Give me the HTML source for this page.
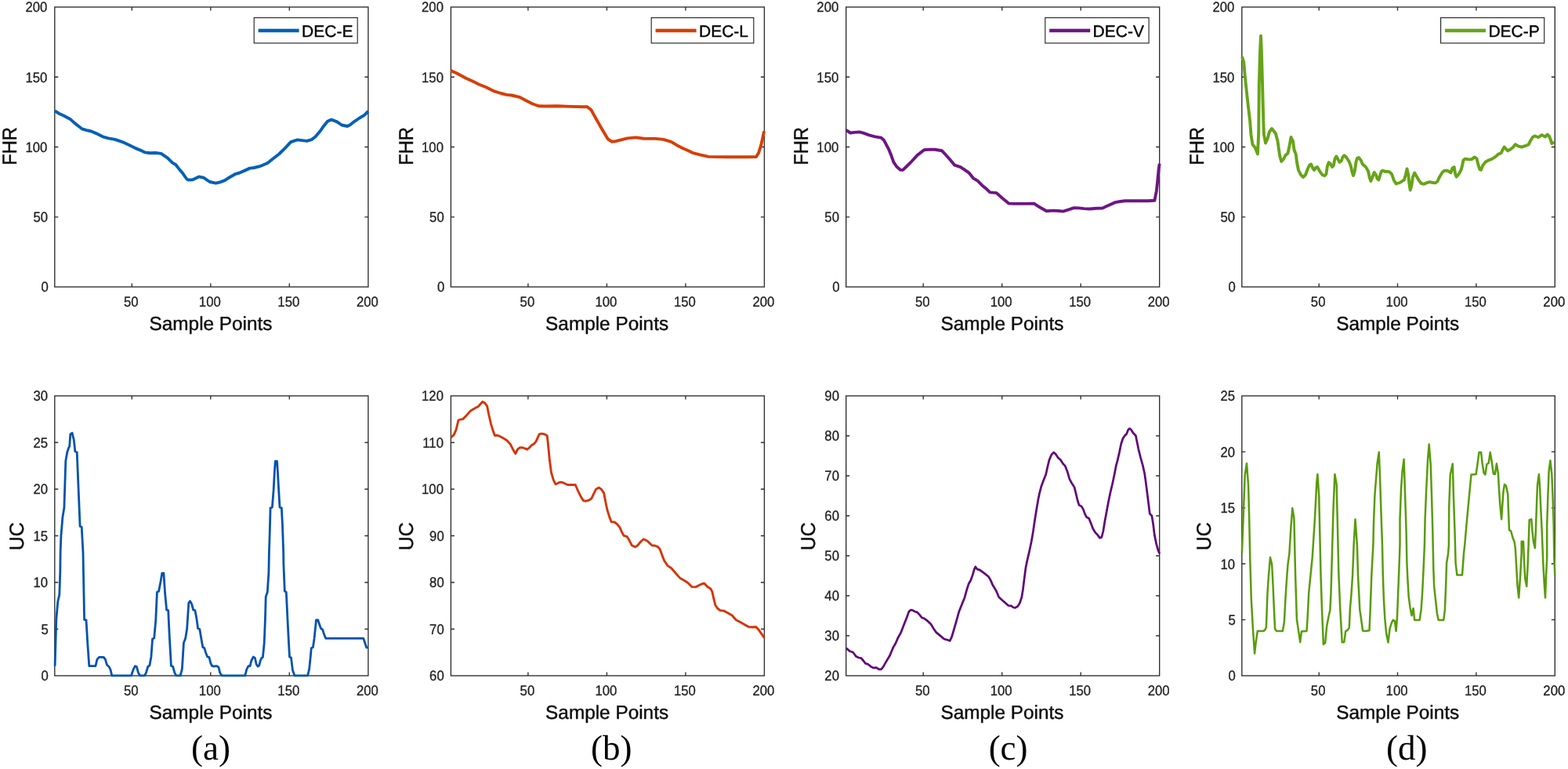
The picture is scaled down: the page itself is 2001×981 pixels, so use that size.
<!DOCTYPE html>
<html lang="en">
<head>
<meta charset="utf-8">
<title>FHR and UC signals for deceleration types</title>
<style>
html,body{margin:0;padding:0;background:#fff;}
body{width:2001px;height:981px;overflow:hidden;}
svg{display:block;}
</style>
</head>
<body>
<svg width="2001" height="981" viewBox="0 0 2001 981" style="display:block" text-rendering="geometricPrecision">
<g>
<rect x="69.8" y="9" width="400.1" height="357" fill="none" stroke="#2c2c2c" stroke-width="1.35"/>
<path d="M168.3,366v-4.5M168.3,9v4.5M268.8,366v-4.5M268.8,9v4.5M369.3,366v-4.5M369.3,9v4.5M69.8,276.8h4.5M469.9,276.8h-4.5M69.8,187.5h4.5M469.9,187.5h-4.5M69.8,98.2h4.5M469.9,98.2h-4.5" fill="none" stroke="#2c2c2c" stroke-width="1.35"/>
<clipPath id="ct0"><rect x="67.6" y="6" width="404.4" height="363"/></clipPath>
<path d="M69.9,141.4 L75.6,145 L81.7,147.8 L89.5,151.9 L96.1,157.7 L104.5,164.3 L110.5,166.1 L116.5,167.5 L122.6,170.1 L131,174.3 L138.2,176.3 L146.6,177.8 L156.2,181.1 L164.7,185.1 L171.9,188.6 L179.1,191.6 L185.1,194.4 L191.1,195.2 L198.3,195 L205.6,195.9 L214,201.6 L220,207.6 L224.2,210 L228.4,215.4 L233.2,221.1 L238,228 L240,229.6 L246,229.2 L253.8,225.4 L259.8,226.6 L267.7,232 L275.5,233.7 L280.9,232.3 L286.9,230.2 L292.9,226.2 L300.8,221.8 L305.6,220.5 L312.2,217.6 L318.8,214.6 L324.2,214 L332.6,211.8 L341.1,208.2 L348.3,202.5 L356.1,196.5 L363.9,188.9 L371.1,181.1 L379.5,178.4 L385.6,179.1 L391.6,179.9 L397.6,178.1 L402.4,174.5 L409,166.7 L413.2,160.7 L418,154.7 L422.9,152.6 L430.1,155.3 L436.1,159.5 L443.3,161 L446.9,159.2 L451.7,155.3 L458.9,150.5 L465,146.8 L469.8,142" fill="none" stroke="#0360b7" stroke-width="3.9" stroke-linejoin="round" stroke-linecap="butt" clip-path="url(#ct0)"/>
<text transform="translate(167.3,390.8) scale(0.925,1)" font-family='"Liberation Sans", Arial, Helvetica, sans-serif' font-size="18.1" fill="#1e1e1e" text-anchor="middle" stroke="#1e1e1e" stroke-width="0.3" stroke-linejoin="round">50</text>
<text transform="translate(267.82,390.8) scale(0.925,1)" font-family='"Liberation Sans", Arial, Helvetica, sans-serif' font-size="18.1" fill="#1e1e1e" text-anchor="middle" stroke="#1e1e1e" stroke-width="0.3" stroke-linejoin="round">100</text>
<text transform="translate(368.33,390.8) scale(0.925,1)" font-family='"Liberation Sans", Arial, Helvetica, sans-serif' font-size="18.1" fill="#1e1e1e" text-anchor="middle" stroke="#1e1e1e" stroke-width="0.3" stroke-linejoin="round">150</text>
<text transform="translate(468.85,390.8) scale(0.925,1)" font-family='"Liberation Sans", Arial, Helvetica, sans-serif' font-size="18.1" fill="#1e1e1e" text-anchor="middle" stroke="#1e1e1e" stroke-width="0.3" stroke-linejoin="round">200</text>
<text transform="translate(61.7,372.4) scale(0.925,1)" font-family='"Liberation Sans", Arial, Helvetica, sans-serif' font-size="18.1" fill="#1e1e1e" text-anchor="end" stroke="#1e1e1e" stroke-width="0.3" stroke-linejoin="round">0</text>
<text transform="translate(61.1,283.15) scale(0.925,1)" font-family='"Liberation Sans", Arial, Helvetica, sans-serif' font-size="18.1" fill="#1e1e1e" text-anchor="end" stroke="#1e1e1e" stroke-width="0.3" stroke-linejoin="round">50</text>
<text transform="translate(60.4,193.9) scale(0.925,1)" font-family='"Liberation Sans", Arial, Helvetica, sans-serif' font-size="18.1" fill="#1e1e1e" text-anchor="end" stroke="#1e1e1e" stroke-width="0.3" stroke-linejoin="round">100</text>
<text transform="translate(60.4,104.65) scale(0.925,1)" font-family='"Liberation Sans", Arial, Helvetica, sans-serif' font-size="18.1" fill="#1e1e1e" text-anchor="end" stroke="#1e1e1e" stroke-width="0.3" stroke-linejoin="round">150</text>
<text transform="translate(60.4,15.4) scale(0.925,1)" font-family='"Liberation Sans", Arial, Helvetica, sans-serif' font-size="18.1" fill="#1e1e1e" text-anchor="end" stroke="#1e1e1e" stroke-width="0.3" stroke-linejoin="round">200</text>
<text transform="translate(269.02,421.4)" font-family='"Liberation Sans", Arial, Helvetica, sans-serif' font-size="24.35" fill="#0c0c0c" text-anchor="middle" stroke="#0c0c0c" stroke-width="0.4" stroke-linejoin="round">Sample Points</text>
<text transform="translate(20.8,186.4) rotate(-90) scale(0.93,1)" font-family='"Liberation Sans", Arial, Helvetica, sans-serif' font-size="25.6" fill="#0c0c0c" text-anchor="middle" stroke="#0c0c0c" stroke-width="0.4" stroke-linejoin="round">FHR</text>
<rect x="324.2" y="22.6" width="132" height="32.4" fill="#fff" stroke="#262626" stroke-width="1.15"/>
<path d="M329.6,39h52" stroke="#0360b7" stroke-width="4.3" fill="none"/>
<text transform="translate(385.05,47.1)" font-family='"Liberation Sans", Arial, Helvetica, sans-serif' font-size="21.0" fill="#000" text-anchor="start" stroke="#000" stroke-width="0.35" stroke-linejoin="round">DEC-E</text>
</g>
<g>
<rect x="575.4" y="9" width="400" height="357" fill="none" stroke="#2c2c2c" stroke-width="1.35"/>
<path d="M673.9,366v-4.5M673.9,9v4.5M774.4,366v-4.5M774.4,9v4.5M874.9,366v-4.5M874.9,9v4.5M575.4,276.8h4.5M975.4,276.8h-4.5M575.4,187.5h4.5M975.4,187.5h-4.5M575.4,98.2h4.5M975.4,98.2h-4.5" fill="none" stroke="#2c2c2c" stroke-width="1.35"/>
<clipPath id="ct1"><rect x="573.2" y="6" width="404.4" height="363"/></clipPath>
<path d="M575.3,90.1 L582.5,93.3 L595.1,99.9 L605.1,104.6 L611.4,107.7 L620.2,111.2 L631.4,116.7 L639,119 L646.5,120.9 L652.7,121.5 L662.8,123.8 L670.3,127.8 L679.1,132.2 L687.2,135.3 L695.4,135.5 L711.7,135.3 L728,135.9 L743,136.2 L749.4,136.2 L754.4,140.3 L760.7,151.6 L768.2,164.7 L775.7,177.3 L780.7,180.7 L785.8,180.2 L792.7,178.3 L800.8,176.4 L811.5,175.4 L821.5,176.7 L836.5,176.9 L846.6,177.9 L856.6,180.8 L864.1,185.4 L871.6,189.2 L877.9,192 L883.6,194.8 L893,197.3 L904.2,199.9 L915.5,200.1 L928.1,200.2 L940.6,200.2 L953.1,200.2 L965.1,200.1 L968.2,194.8 L971.3,184.8 L973.5,174.8 L975.1,167.3" fill="none" stroke="#d63f05" stroke-width="3.9" stroke-linejoin="round" stroke-linecap="butt" clip-path="url(#ct1)"/>
<text transform="translate(672.89,390.8) scale(0.925,1)" font-family='"Liberation Sans", Arial, Helvetica, sans-serif' font-size="18.1" fill="#1e1e1e" text-anchor="middle" stroke="#1e1e1e" stroke-width="0.3" stroke-linejoin="round">50</text>
<text transform="translate(773.39,390.8) scale(0.925,1)" font-family='"Liberation Sans", Arial, Helvetica, sans-serif' font-size="18.1" fill="#1e1e1e" text-anchor="middle" stroke="#1e1e1e" stroke-width="0.3" stroke-linejoin="round">100</text>
<text transform="translate(873.9,390.8) scale(0.925,1)" font-family='"Liberation Sans", Arial, Helvetica, sans-serif' font-size="18.1" fill="#1e1e1e" text-anchor="middle" stroke="#1e1e1e" stroke-width="0.3" stroke-linejoin="round">150</text>
<text transform="translate(974.4,390.8) scale(0.925,1)" font-family='"Liberation Sans", Arial, Helvetica, sans-serif' font-size="18.1" fill="#1e1e1e" text-anchor="middle" stroke="#1e1e1e" stroke-width="0.3" stroke-linejoin="round">200</text>
<text transform="translate(567.3,372.4) scale(0.925,1)" font-family='"Liberation Sans", Arial, Helvetica, sans-serif' font-size="18.1" fill="#1e1e1e" text-anchor="end" stroke="#1e1e1e" stroke-width="0.3" stroke-linejoin="round">0</text>
<text transform="translate(566.7,283.15) scale(0.925,1)" font-family='"Liberation Sans", Arial, Helvetica, sans-serif' font-size="18.1" fill="#1e1e1e" text-anchor="end" stroke="#1e1e1e" stroke-width="0.3" stroke-linejoin="round">50</text>
<text transform="translate(566,193.9) scale(0.925,1)" font-family='"Liberation Sans", Arial, Helvetica, sans-serif' font-size="18.1" fill="#1e1e1e" text-anchor="end" stroke="#1e1e1e" stroke-width="0.3" stroke-linejoin="round">100</text>
<text transform="translate(566,104.65) scale(0.925,1)" font-family='"Liberation Sans", Arial, Helvetica, sans-serif' font-size="18.1" fill="#1e1e1e" text-anchor="end" stroke="#1e1e1e" stroke-width="0.3" stroke-linejoin="round">150</text>
<text transform="translate(566,15.4) scale(0.925,1)" font-family='"Liberation Sans", Arial, Helvetica, sans-serif' font-size="18.1" fill="#1e1e1e" text-anchor="end" stroke="#1e1e1e" stroke-width="0.3" stroke-linejoin="round">200</text>
<text transform="translate(774.6,421.4)" font-family='"Liberation Sans", Arial, Helvetica, sans-serif' font-size="24.35" fill="#0c0c0c" text-anchor="middle" stroke="#0c0c0c" stroke-width="0.4" stroke-linejoin="round">Sample Points</text>
<text transform="translate(526.5,186.4) rotate(-90) scale(0.93,1)" font-family='"Liberation Sans", Arial, Helvetica, sans-serif' font-size="25.6" fill="#0c0c0c" text-anchor="middle" stroke="#0c0c0c" stroke-width="0.4" stroke-linejoin="round">FHR</text>
<rect x="831.2" y="22.6" width="130.6" height="32.4" fill="#fff" stroke="#262626" stroke-width="1.15"/>
<path d="M836.6,39h52" stroke="#d63f05" stroke-width="4.3" fill="none"/>
<text transform="translate(892,47.1)" font-family='"Liberation Sans", Arial, Helvetica, sans-serif' font-size="21.0" fill="#000" text-anchor="start" stroke="#000" stroke-width="0.35" stroke-linejoin="round">DEC-L</text>
</g>
<g>
<rect x="1079.7" y="9" width="400" height="357" fill="none" stroke="#2c2c2c" stroke-width="1.35"/>
<path d="M1178.2,366v-4.5M1178.2,9v4.5M1278.7,366v-4.5M1278.7,9v4.5M1379.2,366v-4.5M1379.2,9v4.5M1079.7,276.8h4.5M1479.7,276.8h-4.5M1079.7,187.5h4.5M1479.7,187.5h-4.5M1079.7,98.2h4.5M1479.7,98.2h-4.5" fill="none" stroke="#2c2c2c" stroke-width="1.35"/>
<clipPath id="ct2"><rect x="1077.5" y="6" width="404.4" height="363"/></clipPath>
<path d="M1079.6,165.8 L1085.3,169.5 L1090.3,168.9 L1096.6,168.4 L1101.6,169.7 L1109.1,172.4 L1116.6,174.3 L1124.2,175.6 L1127.9,178.7 L1133.6,189.3 L1137.3,198.1 L1140.4,206.9 L1144.2,212.5 L1149.2,216.9 L1152.4,216.7 L1156.7,212.5 L1163,206.3 L1170.5,198.1 L1179.3,191.2 L1186.8,190.6 L1193.1,190.8 L1201.9,192.2 L1206.9,197.5 L1212.5,203.8 L1218.2,210.7 L1225.7,213.2 L1230.7,216.3 L1236.4,220.3 L1242,227.3 L1247.6,230.7 L1253.3,236.4 L1258.9,241.1 L1263.4,245.4 L1271.6,246.1 L1279.1,252.7 L1287.3,259.6 L1294.2,259.9 L1306.7,259.9 L1319.9,259.8 L1326.7,264.3 L1335.5,269.2 L1344.3,268.6 L1350.6,269 L1356.8,269.6 L1363.1,267.7 L1370.6,265.2 L1376.9,265.4 L1383.2,266.1 L1390.7,266.5 L1399.5,265.8 L1407,265.6 L1414.5,262.1 L1423.3,258.1 L1429.6,257 L1435.8,256.2 L1450.9,256.2 L1464.7,256.2 L1473.4,255.8 L1475.9,243.3 L1477.5,228.2 L1478.7,215.7 L1479.7,208.8" fill="none" stroke="#6e1584" stroke-width="3.9" stroke-linejoin="round" stroke-linecap="butt" clip-path="url(#ct2)"/>
<text transform="translate(1177.19,390.8) scale(0.925,1)" font-family='"Liberation Sans", Arial, Helvetica, sans-serif' font-size="18.1" fill="#1e1e1e" text-anchor="middle" stroke="#1e1e1e" stroke-width="0.3" stroke-linejoin="round">50</text>
<text transform="translate(1277.69,390.8) scale(0.925,1)" font-family='"Liberation Sans", Arial, Helvetica, sans-serif' font-size="18.1" fill="#1e1e1e" text-anchor="middle" stroke="#1e1e1e" stroke-width="0.3" stroke-linejoin="round">100</text>
<text transform="translate(1378.2,390.8) scale(0.925,1)" font-family='"Liberation Sans", Arial, Helvetica, sans-serif' font-size="18.1" fill="#1e1e1e" text-anchor="middle" stroke="#1e1e1e" stroke-width="0.3" stroke-linejoin="round">150</text>
<text transform="translate(1478.7,390.8) scale(0.925,1)" font-family='"Liberation Sans", Arial, Helvetica, sans-serif' font-size="18.1" fill="#1e1e1e" text-anchor="middle" stroke="#1e1e1e" stroke-width="0.3" stroke-linejoin="round">200</text>
<text transform="translate(1071.6,372.4) scale(0.925,1)" font-family='"Liberation Sans", Arial, Helvetica, sans-serif' font-size="18.1" fill="#1e1e1e" text-anchor="end" stroke="#1e1e1e" stroke-width="0.3" stroke-linejoin="round">0</text>
<text transform="translate(1071,283.15) scale(0.925,1)" font-family='"Liberation Sans", Arial, Helvetica, sans-serif' font-size="18.1" fill="#1e1e1e" text-anchor="end" stroke="#1e1e1e" stroke-width="0.3" stroke-linejoin="round">50</text>
<text transform="translate(1070.3,193.9) scale(0.925,1)" font-family='"Liberation Sans", Arial, Helvetica, sans-serif' font-size="18.1" fill="#1e1e1e" text-anchor="end" stroke="#1e1e1e" stroke-width="0.3" stroke-linejoin="round">100</text>
<text transform="translate(1070.3,104.65) scale(0.925,1)" font-family='"Liberation Sans", Arial, Helvetica, sans-serif' font-size="18.1" fill="#1e1e1e" text-anchor="end" stroke="#1e1e1e" stroke-width="0.3" stroke-linejoin="round">150</text>
<text transform="translate(1070.3,15.4) scale(0.925,1)" font-family='"Liberation Sans", Arial, Helvetica, sans-serif' font-size="18.1" fill="#1e1e1e" text-anchor="end" stroke="#1e1e1e" stroke-width="0.3" stroke-linejoin="round">200</text>
<text transform="translate(1278.9,421.4)" font-family='"Liberation Sans", Arial, Helvetica, sans-serif' font-size="24.35" fill="#0c0c0c" text-anchor="middle" stroke="#0c0c0c" stroke-width="0.4" stroke-linejoin="round">Sample Points</text>
<text transform="translate(1030.8,186.4) rotate(-90) scale(0.93,1)" font-family='"Liberation Sans", Arial, Helvetica, sans-serif' font-size="25.6" fill="#0c0c0c" text-anchor="middle" stroke="#0c0c0c" stroke-width="0.4" stroke-linejoin="round">FHR</text>
<rect x="1333.8" y="22.6" width="132.3" height="32.4" fill="#fff" stroke="#262626" stroke-width="1.15"/>
<path d="M1339.2,39h52" stroke="#6e1584" stroke-width="4.3" fill="none"/>
<text transform="translate(1394.6,47.1)" font-family='"Liberation Sans", Arial, Helvetica, sans-serif' font-size="21.0" fill="#000" text-anchor="start" stroke="#000" stroke-width="0.35" stroke-linejoin="round">DEC-V</text>
</g>
<g>
<rect x="1584.8" y="9" width="399.5" height="357" fill="none" stroke="#2c2c2c" stroke-width="1.35"/>
<path d="M1683.2,366v-4.5M1683.2,9v4.5M1783.5,366v-4.5M1783.5,9v4.5M1883.9,366v-4.5M1883.9,9v4.5M1584.8,276.8h4.5M1984.3,276.8h-4.5M1584.8,187.5h4.5M1984.3,187.5h-4.5M1584.8,98.2h4.5M1984.3,98.2h-4.5" fill="none" stroke="#2c2c2c" stroke-width="1.35"/>
<clipPath id="ct3"><rect x="1582.6" y="6" width="403.9" height="363"/></clipPath>
<path d="M1585,72.3 L1587.2,79 L1588.7,96.2 L1591.5,123.1 L1595.2,155 L1596.5,172 L1598.5,184.5 L1601.5,188 L1605,196.5 L1606.2,170 L1606.8,108.4 L1608,65.6 L1609,45.8 L1609.9,65.6 L1611.1,108.4 L1612.3,155 L1613,172 L1615,182.5 L1617.5,177 L1620,168 L1623,164 L1628,170.5 L1630.5,180 L1633,198 L1635.2,206 L1638,203 L1640.5,198 L1643.5,195.5 L1645.5,186 L1647.5,175 L1650,180 L1651.5,191 L1653.8,197 L1655,207 L1657,217 L1660,223 L1663.2,226 L1666,223 L1669,215 L1671.2,210.5 L1673.2,209.5 L1675,214 L1677.2,217 L1679,214 L1681.1,213 L1683.9,218 L1687.4,223 L1690.4,224.2 L1692.4,222 L1693.9,212 L1695.7,207.2 L1697.9,209 L1699.9,213 L1701.9,211 L1703.4,203 L1705.4,199.5 L1707.4,203 L1709.4,207 L1711.9,205 L1713.4,200.5 L1715.4,198.2 L1718.4,201 L1721.9,206.5 L1723.9,212 L1725.4,219 L1727.1,224 L1728.9,218 L1730.4,207 L1731.9,202 L1733.9,201 L1736.4,204 L1738.9,209.5 L1742.9,213 L1745.9,218 L1747.9,227 L1749.4,231 L1751.4,226 L1753.7,220 L1755.9,223 L1757.7,228 L1759.4,229.5 L1761.1,224 L1762.9,218.5 L1764.9,217.5 L1767.9,219 L1770,218.6 L1773.3,219.4 L1776.1,222.2 L1778.8,229.9 L1781.6,234.5 L1786.5,233 L1792,229.3 L1794,222.2 L1795.5,215.3 L1797.3,223.3 L1798.4,234.3 L1799.7,242.5 L1801.4,236.5 L1803,225.5 L1805.2,220.5 L1808,225.5 L1811.3,231 L1814,234.1 L1817.3,234.8 L1821.2,233 L1824.5,232.1 L1828.4,233 L1831.7,233.4 L1834.4,231.5 L1837.2,225.5 L1840.5,220 L1843.2,217.8 L1847.1,217.8 L1851.5,220.2 L1853.5,214.5 L1855.7,213.1 L1857,221.1 L1858.6,225.5 L1861.4,222.2 L1864.1,217.8 L1865.8,212.3 L1867.4,204.5 L1869.6,202.6 L1873.5,203.2 L1877.9,203.4 L1881.8,200.4 L1884.5,202.3 L1886.7,211.2 L1888.4,216.1 L1890,216.7 L1892.2,211.2 L1895.5,206.8 L1899.9,204.3 L1903.8,202.9 L1908.2,200.1 L1912,196.8 L1915.9,194.9 L1918.1,190.2 L1919.7,187.5 L1922,190.2 L1924.2,192.4 L1927.5,190.5 L1930.8,188 L1933.8,184.2 L1937.4,186.4 L1941.8,187.7 L1946.2,186.2 L1950.6,184.5 L1953.3,179.2 L1956.1,174.8 L1958.8,173.5 L1963.2,175.2 L1967.6,172.1 L1972.1,174.6 L1974.6,171.5 L1977,173.7 L1978.7,178.1 L1980.3,183.1 L1983.6,181.4" fill="none" stroke="#66a418" stroke-width="3.9" stroke-linejoin="round" stroke-linecap="butt" clip-path="url(#ct3)"/>
<text transform="translate(1682.17,390.8) scale(0.925,1)" font-family='"Liberation Sans", Arial, Helvetica, sans-serif' font-size="18.1" fill="#1e1e1e" text-anchor="middle" stroke="#1e1e1e" stroke-width="0.3" stroke-linejoin="round">50</text>
<text transform="translate(1782.55,390.8) scale(0.925,1)" font-family='"Liberation Sans", Arial, Helvetica, sans-serif' font-size="18.1" fill="#1e1e1e" text-anchor="middle" stroke="#1e1e1e" stroke-width="0.3" stroke-linejoin="round">100</text>
<text transform="translate(1882.92,390.8) scale(0.925,1)" font-family='"Liberation Sans", Arial, Helvetica, sans-serif' font-size="18.1" fill="#1e1e1e" text-anchor="middle" stroke="#1e1e1e" stroke-width="0.3" stroke-linejoin="round">150</text>
<text transform="translate(1983.3,390.8) scale(0.925,1)" font-family='"Liberation Sans", Arial, Helvetica, sans-serif' font-size="18.1" fill="#1e1e1e" text-anchor="middle" stroke="#1e1e1e" stroke-width="0.3" stroke-linejoin="round">200</text>
<text transform="translate(1576.7,372.4) scale(0.925,1)" font-family='"Liberation Sans", Arial, Helvetica, sans-serif' font-size="18.1" fill="#1e1e1e" text-anchor="end" stroke="#1e1e1e" stroke-width="0.3" stroke-linejoin="round">0</text>
<text transform="translate(1576.1,283.15) scale(0.925,1)" font-family='"Liberation Sans", Arial, Helvetica, sans-serif' font-size="18.1" fill="#1e1e1e" text-anchor="end" stroke="#1e1e1e" stroke-width="0.3" stroke-linejoin="round">50</text>
<text transform="translate(1575.4,193.9) scale(0.925,1)" font-family='"Liberation Sans", Arial, Helvetica, sans-serif' font-size="18.1" fill="#1e1e1e" text-anchor="end" stroke="#1e1e1e" stroke-width="0.3" stroke-linejoin="round">100</text>
<text transform="translate(1575.4,104.65) scale(0.925,1)" font-family='"Liberation Sans", Arial, Helvetica, sans-serif' font-size="18.1" fill="#1e1e1e" text-anchor="end" stroke="#1e1e1e" stroke-width="0.3" stroke-linejoin="round">150</text>
<text transform="translate(1575.4,15.4) scale(0.925,1)" font-family='"Liberation Sans", Arial, Helvetica, sans-serif' font-size="18.1" fill="#1e1e1e" text-anchor="end" stroke="#1e1e1e" stroke-width="0.3" stroke-linejoin="round">200</text>
<text transform="translate(1783.75,421.4)" font-family='"Liberation Sans", Arial, Helvetica, sans-serif' font-size="24.35" fill="#0c0c0c" text-anchor="middle" stroke="#0c0c0c" stroke-width="0.4" stroke-linejoin="round">Sample Points</text>
<text transform="translate(1536.2,186.4) rotate(-90) scale(0.93,1)" font-family='"Liberation Sans", Arial, Helvetica, sans-serif' font-size="25.6" fill="#0c0c0c" text-anchor="middle" stroke="#0c0c0c" stroke-width="0.4" stroke-linejoin="round">FHR</text>
<rect x="1838.6" y="22.6" width="132.1" height="32.4" fill="#fff" stroke="#262626" stroke-width="1.15"/>
<path d="M1844,39h52" stroke="#66a418" stroke-width="4.3" fill="none"/>
<text transform="translate(1899.4,47.1)" font-family='"Liberation Sans", Arial, Helvetica, sans-serif' font-size="21.0" fill="#000" text-anchor="start" stroke="#000" stroke-width="0.35" stroke-linejoin="round">DEC-P</text>
</g>
<g>
<rect x="69.8" y="505" width="400.1" height="357" fill="none" stroke="#2c2c2c" stroke-width="1.35"/>
<path d="M168.3,862v-4.5M168.3,505v4.5M268.8,862v-4.5M268.8,505v4.5M369.3,862v-4.5M369.3,505v4.5M69.8,802.5h4.5M469.9,802.5h-4.5M69.8,743h4.5M469.9,743h-4.5M69.8,683.5h4.5M469.9,683.5h-4.5M69.8,624h4.5M469.9,624h-4.5M69.8,564.5h4.5M469.9,564.5h-4.5" fill="none" stroke="#2c2c2c" stroke-width="1.35"/>
<clipPath id="cb0"><rect x="67.6" y="502" width="404.4" height="363"/></clipPath>
<path d="M70.1,849.7 L71.8,790.8 L73.8,767.3 L75.8,758.9 L76.8,730.3 L77.1,705 L77.9,683.6 L79.9,659.7 L81.9,647.8 L83.8,588.2 L85.8,576.8 L87.7,571.1 L88.7,569.5 L89.8,554 L92.1,552.3 L94.3,561.3 L95.9,576 L98.2,576.8 L102.1,671.4 L104.2,672.2 L106,705 L107.6,790.5 L110,790.8 L111.8,821.1 L113.8,849.7 L121.9,849.7 L123.9,841.3 L126.4,838.3 L132.3,838.3 L134.5,841.3 L136.5,848.3 L139.1,850.5 L141.1,854.7 L142.8,861.8 L167.6,861.8 L170.2,853.9 L172.4,849.7 L174.4,850.5 L176.4,858.1 L178.6,861.8 L184.5,861.8 L186.5,858.1 L188.7,850.5 L190.9,848.9 L192.9,837.9 L194.6,814.9 L196.7,814 L198.8,790.8 L200.4,755.5 L202.6,754.2 L205,742 L206.8,731.1 L208.9,731.1 L210.5,755.5 L212.6,778.2 L214.7,778.7 L216.4,814.4 L218.4,849.4 L220.6,850.2 L222.8,858.1 L224.8,861.8 L230.2,861.8 L232.4,853.1 L234.4,820.3 L236.6,814.4 L238.6,802.6 L240.8,769 L242.5,766.8 L244.7,770.6 L246.7,778.2 L248.9,778.7 L250.9,789.1 L252.6,801.8 L254.8,802.6 L256.8,814.4 L258.8,825.8 L260.7,826.5 L262.7,832.9 L264.7,837.9 L266.9,838.4 L268.9,846.3 L270.8,849.7 L272.8,850 L277,849.7 L279,851.4 L280.7,858.1 L282.9,861.8 L312.7,861.8 L314.8,853.9 L317,849.7 L319.1,849.7 L320.7,843 L323.3,837.9 L325.4,839.3 L327.1,847.2 L329.1,850.2 L330.8,848.9 L332.2,843 L333.7,839.6 L335.4,838.3 L337.2,820.3 L338.4,790.8 L339.2,761.4 L341.3,755.2 L342.9,730.3 L343.4,705 L344.2,681 L345.1,647.9 L347.4,647.2 L349.1,625.4 L350.4,601.5 L351.3,588.3 L353.5,588.3 L354.4,601.5 L355.7,625.4 L357,647.2 L359.3,647.9 L360.4,667.8 L361.7,705 L361.9,720.2 L363.3,754.2 L365.3,755.5 L367,790.8 L368.2,814.4 L369.5,837.9 L371.5,838.9 L373.4,854.7 L375.9,861.8 L392.7,861.8 L394.7,853.1 L396.1,839.6 L397.3,826.7 L399.4,825.8 L401.1,814.4 L402.3,802.6 L403.5,790.8 L405.7,790.8 L407.7,796.7 L409.5,801.8 L411.6,802.9 L413.6,809.3 L415.8,814.4 L440,814.4 L463.8,814.4 L467.7,826 L469.8,826.2" fill="none" stroke="#0052ae" stroke-width="2.8" stroke-linejoin="round" stroke-linecap="butt" clip-path="url(#cb0)"/>
<text transform="translate(167.3,886.8) scale(0.925,1)" font-family='"Liberation Sans", Arial, Helvetica, sans-serif' font-size="18.1" fill="#1e1e1e" text-anchor="middle" stroke="#1e1e1e" stroke-width="0.3" stroke-linejoin="round">50</text>
<text transform="translate(267.82,886.8) scale(0.925,1)" font-family='"Liberation Sans", Arial, Helvetica, sans-serif' font-size="18.1" fill="#1e1e1e" text-anchor="middle" stroke="#1e1e1e" stroke-width="0.3" stroke-linejoin="round">100</text>
<text transform="translate(368.33,886.8) scale(0.925,1)" font-family='"Liberation Sans", Arial, Helvetica, sans-serif' font-size="18.1" fill="#1e1e1e" text-anchor="middle" stroke="#1e1e1e" stroke-width="0.3" stroke-linejoin="round">150</text>
<text transform="translate(468.85,886.8) scale(0.925,1)" font-family='"Liberation Sans", Arial, Helvetica, sans-serif' font-size="18.1" fill="#1e1e1e" text-anchor="middle" stroke="#1e1e1e" stroke-width="0.3" stroke-linejoin="round">200</text>
<text transform="translate(61.7,868.4) scale(0.925,1)" font-family='"Liberation Sans", Arial, Helvetica, sans-serif' font-size="18.1" fill="#1e1e1e" text-anchor="end" stroke="#1e1e1e" stroke-width="0.3" stroke-linejoin="round">0</text>
<text transform="translate(61.7,808.9) scale(0.925,1)" font-family='"Liberation Sans", Arial, Helvetica, sans-serif' font-size="18.1" fill="#1e1e1e" text-anchor="end" stroke="#1e1e1e" stroke-width="0.3" stroke-linejoin="round">5</text>
<text transform="translate(61.1,749.4) scale(0.925,1)" font-family='"Liberation Sans", Arial, Helvetica, sans-serif' font-size="18.1" fill="#1e1e1e" text-anchor="end" stroke="#1e1e1e" stroke-width="0.3" stroke-linejoin="round">10</text>
<text transform="translate(61.1,689.9) scale(0.925,1)" font-family='"Liberation Sans", Arial, Helvetica, sans-serif' font-size="18.1" fill="#1e1e1e" text-anchor="end" stroke="#1e1e1e" stroke-width="0.3" stroke-linejoin="round">15</text>
<text transform="translate(61.1,630.4) scale(0.925,1)" font-family='"Liberation Sans", Arial, Helvetica, sans-serif' font-size="18.1" fill="#1e1e1e" text-anchor="end" stroke="#1e1e1e" stroke-width="0.3" stroke-linejoin="round">20</text>
<text transform="translate(61.1,570.9) scale(0.925,1)" font-family='"Liberation Sans", Arial, Helvetica, sans-serif' font-size="18.1" fill="#1e1e1e" text-anchor="end" stroke="#1e1e1e" stroke-width="0.3" stroke-linejoin="round">25</text>
<text transform="translate(61.1,511.4) scale(0.925,1)" font-family='"Liberation Sans", Arial, Helvetica, sans-serif' font-size="18.1" fill="#1e1e1e" text-anchor="end" stroke="#1e1e1e" stroke-width="0.3" stroke-linejoin="round">30</text>
<text transform="translate(269.02,917.4)" font-family='"Liberation Sans", Arial, Helvetica, sans-serif' font-size="24.35" fill="#0c0c0c" text-anchor="middle" stroke="#0c0c0c" stroke-width="0.4" stroke-linejoin="round">Sample Points</text>
<text transform="translate(30.3,684.2) rotate(-90) scale(0.975,1)" font-family='"Liberation Sans", Arial, Helvetica, sans-serif' font-size="25.6" fill="#0c0c0c" text-anchor="middle" stroke="#0c0c0c" stroke-width="0.4" stroke-linejoin="round">UC</text>
<text transform="translate(269,968.7)" font-family='"Liberation Serif", "Times New Roman", serif' font-size="45" fill="#000" text-anchor="middle">(a)</text>
</g>
<g>
<rect x="575.4" y="505" width="400" height="357" fill="none" stroke="#2c2c2c" stroke-width="1.35"/>
<path d="M673.9,862v-4.5M673.9,505v4.5M774.4,862v-4.5M774.4,505v4.5M874.9,862v-4.5M874.9,505v4.5M575.4,802.5h4.5M975.4,802.5h-4.5M575.4,743h4.5M975.4,743h-4.5M575.4,683.5h4.5M975.4,683.5h-4.5M575.4,624h4.5M975.4,624h-4.5M575.4,564.5h4.5M975.4,564.5h-4.5" fill="none" stroke="#2c2c2c" stroke-width="1.35"/>
<clipPath id="cb1"><rect x="573.2" y="502" width="404.4" height="363"/></clipPath>
<path d="M575.4,558.1 L579.3,554.6 L582.1,548.2 L585,536 L587.8,535 L590.7,534.6 L595,530.3 L600.7,523.9 L605.7,521 L610.7,518.2 L615.7,512.5 L618.5,513.9 L621.7,518.2 L623.5,527.5 L626.4,540.3 L629.2,549.6 L631.4,555.6 L634.2,555.3 L637.8,556.4 L642.8,559.3 L647.1,562 L651.3,566.7 L654.9,573.8 L657.8,578.8 L660.6,573.1 L663.5,571 L667,571 L669.9,572.1 L672.8,573.4 L675.6,571 L678.5,567.9 L682,565.7 L684.2,562.9 L686.3,558.1 L688.2,553.9 L691.3,553.2 L694.9,553.9 L698.2,555.7 L699.2,564.6 L701.3,586 L703.4,602.4 L706.3,612.4 L709.1,617.7 L711.3,616.7 L714.1,615.2 L717,615.2 L718.6,615.8 L724.3,618.5 L729.3,618.5 L734.3,618.5 L737.8,626.7 L741.4,633.9 L744.5,638.6 L747.8,639.2 L751.4,638.2 L755,635.7 L757.8,629.6 L760.7,623.9 L764.2,622 L767.1,623.9 L770.7,628.9 L772.8,640.3 L774.9,650.3 L777.8,659.6 L780.2,665.7 L784.2,666 L787.8,668.8 L791.1,673.1 L793.5,678.8 L796.1,683.4 L799.9,684.3 L802.8,688.8 L806.3,695.7 L810.6,697.8 L813.5,696 L817.7,691 L821.3,687.7 L826.3,690.2 L829.2,693.1 L832,695.7 L835.6,696 L839.2,697.4 L842,700.2 L844.9,708.1 L847.7,715.2 L852,721.6 L856.3,724.5 L857.1,725.3 L862.1,731 L867.8,737.4 L872.8,740.3 L877.8,743.4 L882.8,748.6 L887.8,748.9 L892.8,746.3 L896.4,744.6 L898.8,744.2 L902.8,748.6 L906.8,751 L908.8,754.6 L910.7,763.1 L912.8,771.7 L915.6,776 L919.2,778.8 L923.5,779.1 L928.5,781.7 L934.2,785 L939.2,790.7 L944.9,793.8 L950.6,797.1 L955.6,799.8 L959.9,800 L964.9,799.8 L968.5,803.8 L972,808.8 L975.3,813.8" fill="none" stroke="#d43505" stroke-width="2.9" stroke-linejoin="round" stroke-linecap="butt" clip-path="url(#cb1)"/>
<text transform="translate(672.89,886.8) scale(0.925,1)" font-family='"Liberation Sans", Arial, Helvetica, sans-serif' font-size="18.1" fill="#1e1e1e" text-anchor="middle" stroke="#1e1e1e" stroke-width="0.3" stroke-linejoin="round">50</text>
<text transform="translate(773.39,886.8) scale(0.925,1)" font-family='"Liberation Sans", Arial, Helvetica, sans-serif' font-size="18.1" fill="#1e1e1e" text-anchor="middle" stroke="#1e1e1e" stroke-width="0.3" stroke-linejoin="round">100</text>
<text transform="translate(873.9,886.8) scale(0.925,1)" font-family='"Liberation Sans", Arial, Helvetica, sans-serif' font-size="18.1" fill="#1e1e1e" text-anchor="middle" stroke="#1e1e1e" stroke-width="0.3" stroke-linejoin="round">150</text>
<text transform="translate(974.4,886.8) scale(0.925,1)" font-family='"Liberation Sans", Arial, Helvetica, sans-serif' font-size="18.1" fill="#1e1e1e" text-anchor="middle" stroke="#1e1e1e" stroke-width="0.3" stroke-linejoin="round">200</text>
<text transform="translate(566.7,868.4) scale(0.925,1)" font-family='"Liberation Sans", Arial, Helvetica, sans-serif' font-size="18.1" fill="#1e1e1e" text-anchor="end" stroke="#1e1e1e" stroke-width="0.3" stroke-linejoin="round">60</text>
<text transform="translate(566.7,808.9) scale(0.925,1)" font-family='"Liberation Sans", Arial, Helvetica, sans-serif' font-size="18.1" fill="#1e1e1e" text-anchor="end" stroke="#1e1e1e" stroke-width="0.3" stroke-linejoin="round">70</text>
<text transform="translate(566.7,749.4) scale(0.925,1)" font-family='"Liberation Sans", Arial, Helvetica, sans-serif' font-size="18.1" fill="#1e1e1e" text-anchor="end" stroke="#1e1e1e" stroke-width="0.3" stroke-linejoin="round">80</text>
<text transform="translate(566.7,689.9) scale(0.925,1)" font-family='"Liberation Sans", Arial, Helvetica, sans-serif' font-size="18.1" fill="#1e1e1e" text-anchor="end" stroke="#1e1e1e" stroke-width="0.3" stroke-linejoin="round">90</text>
<text transform="translate(566,630.4) scale(0.925,1)" font-family='"Liberation Sans", Arial, Helvetica, sans-serif' font-size="18.1" fill="#1e1e1e" text-anchor="end" stroke="#1e1e1e" stroke-width="0.3" stroke-linejoin="round">100</text>
<text transform="translate(566,570.9) scale(0.925,1)" font-family='"Liberation Sans", Arial, Helvetica, sans-serif' font-size="18.1" fill="#1e1e1e" text-anchor="end" stroke="#1e1e1e" stroke-width="0.3" stroke-linejoin="round">110</text>
<text transform="translate(566,511.4) scale(0.925,1)" font-family='"Liberation Sans", Arial, Helvetica, sans-serif' font-size="18.1" fill="#1e1e1e" text-anchor="end" stroke="#1e1e1e" stroke-width="0.3" stroke-linejoin="round">120</text>
<text transform="translate(774.6,917.4)" font-family='"Liberation Sans", Arial, Helvetica, sans-serif' font-size="24.35" fill="#0c0c0c" text-anchor="middle" stroke="#0c0c0c" stroke-width="0.4" stroke-linejoin="round">Sample Points</text>
<text transform="translate(526.7,684.2) rotate(-90) scale(0.975,1)" font-family='"Liberation Sans", Arial, Helvetica, sans-serif' font-size="25.6" fill="#0c0c0c" text-anchor="middle" stroke="#0c0c0c" stroke-width="0.4" stroke-linejoin="round">UC</text>
<text transform="translate(780.3,968.7)" font-family='"Liberation Serif", "Times New Roman", serif' font-size="45" fill="#000" text-anchor="middle">(b)</text>
</g>
<g>
<rect x="1079.7" y="505" width="400" height="357" fill="none" stroke="#2c2c2c" stroke-width="1.35"/>
<path d="M1178.2,862v-4.5M1178.2,505v4.5M1278.7,862v-4.5M1278.7,505v4.5M1379.2,862v-4.5M1379.2,505v4.5M1079.7,811h4.5M1479.7,811h-4.5M1079.7,760h4.5M1479.7,760h-4.5M1079.7,709h4.5M1479.7,709h-4.5M1079.7,658h4.5M1479.7,658h-4.5M1079.7,607h4.5M1479.7,607h-4.5M1079.7,556h4.5M1479.7,556h-4.5" fill="none" stroke="#2c2c2c" stroke-width="1.35"/>
<clipPath id="cb2"><rect x="1077.5" y="502" width="404.4" height="363"/></clipPath>
<path d="M1079.9,826.9 L1084.5,830.8 L1088.5,832 L1092.3,837.2 L1095.8,839 L1098.9,839.5 L1101.9,843 L1104.5,846.4 L1107.6,847.3 L1111.4,850.4 L1114.5,852 L1118.3,851.6 L1121.8,853.9 L1124.4,853.9 L1127,850.8 L1130.5,844.7 L1135.7,836 L1140,825.6 L1142.9,820.8 L1146,813.5 L1149.5,807.4 L1153.8,796.2 L1157.3,787.5 L1159.9,780.1 L1162.5,778 L1165.1,778.8 L1167.7,780.2 L1170.7,781.1 L1173.8,784.6 L1176.4,788 L1179,788.7 L1183.3,791.8 L1188,796.2 L1191.1,801.4 L1194.6,806.6 L1199.8,810.9 L1205,815.2 L1208.4,816.1 L1212.2,817.5 L1214.5,812.6 L1217.1,804 L1220.6,791.8 L1224,779.7 L1227.5,771 L1231,762.4 L1233.6,752.9 L1236.2,744.7 L1238.8,740.2 L1241.4,732.9 L1243.4,726 L1244.8,723 L1246.9,726.1 L1250.4,727.1 L1255.6,730.9 L1261.7,735.8 L1264.3,740.4 L1266.9,746.5 L1271.2,753.4 L1274.7,761.8 L1279.9,766.4 L1286.8,772.5 L1290.3,772.8 L1292.9,774.8 L1295.5,775.4 L1298.9,773.4 L1301.5,769 L1303.8,762.1 L1305.5,751.7 L1307.2,737.8 L1309,724 L1311,714.4 L1313.6,703.2 L1316.2,691 L1318.3,678.9 L1320.6,663.3 L1322.8,649.5 L1324.9,637.3 L1326.7,628.6 L1329,619.9 L1331.6,613 L1334.7,605.2 L1336.8,595.7 L1338.9,587 L1341.6,580.4 L1344.6,577.1 L1347.2,579.2 L1350.3,583.9 L1353.3,586.6 L1356.7,591.8 L1359.3,594.4 L1361.9,600.9 L1364.9,611.2 L1367.6,616.1 L1371.1,621.6 L1373.2,630.3 L1375.3,639 L1377,644.2 L1380.1,645.9 L1382.2,649.4 L1384.4,655.4 L1386.7,659.8 L1389.6,661.2 L1392.2,667.6 L1394.8,674.5 L1397.4,678.8 L1400.9,682.6 L1403.5,686.3 L1405.8,685.4 L1407.8,678 L1409.9,665 L1412.2,652.8 L1414.4,640.7 L1416.9,628.6 L1419.6,617.3 L1422,606 L1424.3,593.9 L1426,587.9 L1428.6,576.6 L1430.7,566.2 L1433,559.3 L1435.6,555.4 L1437.6,553.7 L1439.4,548.9 L1441.3,546.6 L1443.4,548 L1446,552.3 L1449.4,555.8 L1450.8,562.7 L1452.9,573.1 L1455.5,583.5 L1458.4,593.9 L1460.7,604.3 L1462.4,616.4 L1464.2,630.3 L1465.9,644.2 L1467.3,655.4 L1469.9,658 L1471.6,668.4 L1473.3,682.3 L1475.8,694.4 L1478,702.2 L1479.8,706.2" fill="none" stroke="#5e0277" stroke-width="2.7" stroke-linejoin="round" stroke-linecap="butt" clip-path="url(#cb2)"/>
<text transform="translate(1177.19,886.8) scale(0.925,1)" font-family='"Liberation Sans", Arial, Helvetica, sans-serif' font-size="18.1" fill="#1e1e1e" text-anchor="middle" stroke="#1e1e1e" stroke-width="0.3" stroke-linejoin="round">50</text>
<text transform="translate(1277.69,886.8) scale(0.925,1)" font-family='"Liberation Sans", Arial, Helvetica, sans-serif' font-size="18.1" fill="#1e1e1e" text-anchor="middle" stroke="#1e1e1e" stroke-width="0.3" stroke-linejoin="round">100</text>
<text transform="translate(1378.2,886.8) scale(0.925,1)" font-family='"Liberation Sans", Arial, Helvetica, sans-serif' font-size="18.1" fill="#1e1e1e" text-anchor="middle" stroke="#1e1e1e" stroke-width="0.3" stroke-linejoin="round">150</text>
<text transform="translate(1478.7,886.8) scale(0.925,1)" font-family='"Liberation Sans", Arial, Helvetica, sans-serif' font-size="18.1" fill="#1e1e1e" text-anchor="middle" stroke="#1e1e1e" stroke-width="0.3" stroke-linejoin="round">200</text>
<text transform="translate(1071,868.4) scale(0.925,1)" font-family='"Liberation Sans", Arial, Helvetica, sans-serif' font-size="18.1" fill="#1e1e1e" text-anchor="end" stroke="#1e1e1e" stroke-width="0.3" stroke-linejoin="round">20</text>
<text transform="translate(1071,817.4) scale(0.925,1)" font-family='"Liberation Sans", Arial, Helvetica, sans-serif' font-size="18.1" fill="#1e1e1e" text-anchor="end" stroke="#1e1e1e" stroke-width="0.3" stroke-linejoin="round">30</text>
<text transform="translate(1071,766.4) scale(0.925,1)" font-family='"Liberation Sans", Arial, Helvetica, sans-serif' font-size="18.1" fill="#1e1e1e" text-anchor="end" stroke="#1e1e1e" stroke-width="0.3" stroke-linejoin="round">40</text>
<text transform="translate(1071,715.4) scale(0.925,1)" font-family='"Liberation Sans", Arial, Helvetica, sans-serif' font-size="18.1" fill="#1e1e1e" text-anchor="end" stroke="#1e1e1e" stroke-width="0.3" stroke-linejoin="round">50</text>
<text transform="translate(1071,664.4) scale(0.925,1)" font-family='"Liberation Sans", Arial, Helvetica, sans-serif' font-size="18.1" fill="#1e1e1e" text-anchor="end" stroke="#1e1e1e" stroke-width="0.3" stroke-linejoin="round">60</text>
<text transform="translate(1071,613.4) scale(0.925,1)" font-family='"Liberation Sans", Arial, Helvetica, sans-serif' font-size="18.1" fill="#1e1e1e" text-anchor="end" stroke="#1e1e1e" stroke-width="0.3" stroke-linejoin="round">70</text>
<text transform="translate(1071,562.4) scale(0.925,1)" font-family='"Liberation Sans", Arial, Helvetica, sans-serif' font-size="18.1" fill="#1e1e1e" text-anchor="end" stroke="#1e1e1e" stroke-width="0.3" stroke-linejoin="round">80</text>
<text transform="translate(1071,511.4) scale(0.925,1)" font-family='"Liberation Sans", Arial, Helvetica, sans-serif' font-size="18.1" fill="#1e1e1e" text-anchor="end" stroke="#1e1e1e" stroke-width="0.3" stroke-linejoin="round">90</text>
<text transform="translate(1278.9,917.4)" font-family='"Liberation Sans", Arial, Helvetica, sans-serif' font-size="24.35" fill="#0c0c0c" text-anchor="middle" stroke="#0c0c0c" stroke-width="0.4" stroke-linejoin="round">Sample Points</text>
<text transform="translate(1039.7,684.2) rotate(-90) scale(0.975,1)" font-family='"Liberation Sans", Arial, Helvetica, sans-serif' font-size="25.6" fill="#0c0c0c" text-anchor="middle" stroke="#0c0c0c" stroke-width="0.4" stroke-linejoin="round">UC</text>
<text transform="translate(1286.6,968.7)" font-family='"Liberation Serif", "Times New Roman", serif' font-size="45" fill="#000" text-anchor="middle">(c)</text>
</g>
<g>
<rect x="1584.8" y="505" width="399.5" height="357" fill="none" stroke="#2c2c2c" stroke-width="1.35"/>
<path d="M1683.2,862v-4.5M1683.2,505v4.5M1783.5,862v-4.5M1783.5,505v4.5M1883.9,862v-4.5M1883.9,505v4.5M1584.8,790.6h4.5M1984.3,790.6h-4.5M1584.8,719.2h4.5M1984.3,719.2h-4.5M1584.8,647.8h4.5M1984.3,647.8h-4.5M1584.8,576.4h4.5M1984.3,576.4h-4.5" fill="none" stroke="#2c2c2c" stroke-width="1.35"/>
<clipPath id="cb3"><rect x="1582.6" y="502" width="403.9" height="363"/></clipPath>
<path d="M1584.9,705.3 L1586.9,653.2 L1588.7,605.8 L1591,591.3 L1593.1,619.6 L1594.2,662.4 L1595.3,713.7 L1596.8,764.2 L1599.1,805.4 L1601.1,833.7 L1602.9,817.7 L1604.8,805.1 L1612.1,805.1 L1614.4,803.6 L1615.9,800.1 L1616.7,777.9 L1617.5,756.5 L1619,733.6 L1621,711.1 L1623.1,719.8 L1624.3,741.2 L1625.9,777.9 L1627.1,802.4 L1629.2,805.1 L1636.9,805.1 L1638.9,793.2 L1640.4,764.2 L1641.9,741.2 L1643.5,719.8 L1645.4,706.1 L1647.3,674.6 L1649.3,648.2 L1651.4,660.9 L1653.1,733.6 L1654.9,790.2 L1657.2,805.4 L1659.2,819.2 L1661,805.4 L1667.5,805.1 L1668.7,787.1 L1670.2,756.5 L1672.5,733.6 L1674.8,710.6 L1677.9,662.4 L1680.2,616.5 L1681.4,605 L1683.2,631.8 L1685.5,733.6 L1687,777.9 L1688.9,822 L1691.2,820 L1693.1,799.3 L1695.4,787.1 L1697.4,777.9 L1698.5,756.5 L1701.6,647.1 L1703.4,605 L1705.7,618 L1708.4,733.6 L1710.3,777.9 L1712.7,819.2 L1715.3,819.2 L1717.2,805.4 L1719.9,803.6 L1721.8,800.9 L1722.8,777.9 L1724.6,756.5 L1726.1,733.6 L1727.6,695.4 L1729.5,662.4 L1731.9,695.4 L1733,733.6 L1735.3,777.9 L1737.1,790.2 L1739.1,804.7 L1742.9,805.1 L1747.5,804.2 L1748.7,777.9 L1750.3,733.6 L1752.4,695.4 L1752.9,670 L1754.4,631.8 L1757.6,591.3 L1759.8,576.8 L1761.3,616.5 L1762.8,662.4 L1764,695.4 L1764.8,733.6 L1765.9,764.2 L1767.4,790.2 L1769.2,808.5 L1771.5,819.5 L1773.5,802.4 L1775.8,794.7 L1777.8,790.9 L1779.9,792 L1781.6,805.1 L1783,787.1 L1784.2,756.5 L1785.4,725.9 L1786.5,695.4 L1786.5,662.4 L1788,624.2 L1789.6,601.2 L1791.6,585.9 L1793.1,631.8 L1794.6,677.7 L1795.4,718.3 L1796.5,741.2 L1797.7,761.1 L1799.5,774.9 L1801.5,785.3 L1803.6,776.1 L1805.2,790.9 L1811.7,790.9 L1813.6,777.9 L1815.1,756.5 L1816.6,725.9 L1817.9,695.4 L1818.6,662.4 L1820.2,624.2 L1822.1,585.9 L1823.7,566.8 L1825.8,593.6 L1827,631.8 L1828.3,677.7 L1829.3,725.9 L1830.1,747.3 L1831.9,764.2 L1833.9,782.5 L1835.7,790.9 L1842.3,790.9 L1843.9,777.9 L1845.1,748.9 L1846.1,718.3 L1848.1,706.1 L1848.9,695.4 L1849.2,647.1 L1850.7,605.8 L1853.8,591.6 L1854.9,631.8 L1856.5,677.7 L1857.6,718.3 L1859.4,733.6 L1866,733.6 L1867.1,718.3 L1868,706.1 L1869.2,695.4 L1871.4,670 L1874.4,637.9 L1877.5,605.5 L1883.6,605 L1885.5,592 L1887.5,577.1 L1890.1,577.1 L1891.6,590.5 L1893.6,603.5 L1895.4,605.5 L1897.4,592 L1899.7,590.8 L1901.7,577.1 L1903.5,587.5 L1905.8,604.3 L1907.8,605 L1909.9,591.6 L1911.9,604.3 L1913,624.2 L1914.2,642.5 L1916.1,662.4 L1917.3,644 L1918.5,627.2 L1920,618 L1921.9,619.6 L1924.2,630.3 L1924.9,650.2 L1926,676.1 L1928.3,677.7 L1930.3,685.3 L1932.6,691.4 L1933.8,699.1 L1934.9,718.3 L1936.4,745.8 L1938.2,762.6 L1940.2,733.6 L1941.7,704.5 L1941.7,690.7 L1944,690.7 L1945.1,718.3 L1946.3,738.2 L1948.2,748.1 L1949.4,725.9 L1950.6,695.4 L1950.9,685.3 L1951.7,663.1 L1954.3,662.4 L1955.5,677.7 L1957,691.4 L1958.9,699.1 L1959.8,677.7 L1960.9,647.1 L1961.9,619.6 L1963.9,605 L1965,619.6 L1966.2,647.1 L1967.7,677.7 L1969.3,718.3 L1970.8,745.8 L1972,762.6 L1973.1,733.6 L1974.2,710.6 L1974.2,670 L1975.4,631.8 L1976.6,601.2 L1978.4,587.5 L1980.3,604.3 L1981.5,631.8 L1982.7,670 L1983.3,710.6 L1984.3,733.6" fill="none" stroke="#589b09" stroke-width="2.5" stroke-linejoin="round" stroke-linecap="butt" clip-path="url(#cb3)"/>
<text transform="translate(1682.17,886.8) scale(0.925,1)" font-family='"Liberation Sans", Arial, Helvetica, sans-serif' font-size="18.1" fill="#1e1e1e" text-anchor="middle" stroke="#1e1e1e" stroke-width="0.3" stroke-linejoin="round">50</text>
<text transform="translate(1782.55,886.8) scale(0.925,1)" font-family='"Liberation Sans", Arial, Helvetica, sans-serif' font-size="18.1" fill="#1e1e1e" text-anchor="middle" stroke="#1e1e1e" stroke-width="0.3" stroke-linejoin="round">100</text>
<text transform="translate(1882.92,886.8) scale(0.925,1)" font-family='"Liberation Sans", Arial, Helvetica, sans-serif' font-size="18.1" fill="#1e1e1e" text-anchor="middle" stroke="#1e1e1e" stroke-width="0.3" stroke-linejoin="round">150</text>
<text transform="translate(1983.3,886.8) scale(0.925,1)" font-family='"Liberation Sans", Arial, Helvetica, sans-serif' font-size="18.1" fill="#1e1e1e" text-anchor="middle" stroke="#1e1e1e" stroke-width="0.3" stroke-linejoin="round">200</text>
<text transform="translate(1576.7,868.4) scale(0.925,1)" font-family='"Liberation Sans", Arial, Helvetica, sans-serif' font-size="18.1" fill="#1e1e1e" text-anchor="end" stroke="#1e1e1e" stroke-width="0.3" stroke-linejoin="round">0</text>
<text transform="translate(1576.7,797) scale(0.925,1)" font-family='"Liberation Sans", Arial, Helvetica, sans-serif' font-size="18.1" fill="#1e1e1e" text-anchor="end" stroke="#1e1e1e" stroke-width="0.3" stroke-linejoin="round">5</text>
<text transform="translate(1576.1,725.6) scale(0.925,1)" font-family='"Liberation Sans", Arial, Helvetica, sans-serif' font-size="18.1" fill="#1e1e1e" text-anchor="end" stroke="#1e1e1e" stroke-width="0.3" stroke-linejoin="round">10</text>
<text transform="translate(1576.1,654.2) scale(0.925,1)" font-family='"Liberation Sans", Arial, Helvetica, sans-serif' font-size="18.1" fill="#1e1e1e" text-anchor="end" stroke="#1e1e1e" stroke-width="0.3" stroke-linejoin="round">15</text>
<text transform="translate(1576.1,582.8) scale(0.925,1)" font-family='"Liberation Sans", Arial, Helvetica, sans-serif' font-size="18.1" fill="#1e1e1e" text-anchor="end" stroke="#1e1e1e" stroke-width="0.3" stroke-linejoin="round">20</text>
<text transform="translate(1576.1,511.4) scale(0.925,1)" font-family='"Liberation Sans", Arial, Helvetica, sans-serif' font-size="18.1" fill="#1e1e1e" text-anchor="end" stroke="#1e1e1e" stroke-width="0.3" stroke-linejoin="round">25</text>
<text transform="translate(1783.75,917.4)" font-family='"Liberation Sans", Arial, Helvetica, sans-serif' font-size="24.35" fill="#0c0c0c" text-anchor="middle" stroke="#0c0c0c" stroke-width="0.4" stroke-linejoin="round">Sample Points</text>
<text transform="translate(1545.2,684.2) rotate(-90) scale(0.975,1)" font-family='"Liberation Sans", Arial, Helvetica, sans-serif' font-size="25.6" fill="#0c0c0c" text-anchor="middle" stroke="#0c0c0c" stroke-width="0.4" stroke-linejoin="round">UC</text>
<text transform="translate(1795.2,968.7)" font-family='"Liberation Serif", "Times New Roman", serif' font-size="45" fill="#000" text-anchor="middle">(d)</text>
</g>
</svg>
</body>
</html>
